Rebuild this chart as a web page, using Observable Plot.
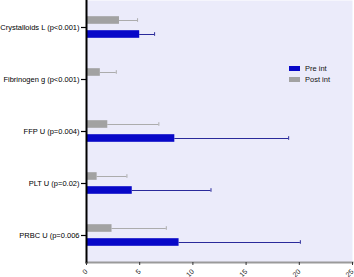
<!DOCTYPE html>
<html>
<head>
<meta charset="utf-8">
<script src="https://cdn.jsdelivr.net/npm/d3@7"></script>
<script src="https://cdn.jsdelivr.net/npm/@observablehq/plot@0.6"></script>
<style>
  body { margin: 0; background: #fff; font-family: "Liberation Sans", Arial, sans-serif; }
  #wrap { position: relative; width: 354px; height: 277px; }
  #legend { position: absolute; left: 289px; top: 63px; font-size: 7.5px; color: #111; }
  .item { display: flex; align-items: center; height: 11px; }
  .sw { width: 11px; height: 5px; margin-right: 5px; }
</style>
</head>
<body>
<div id="wrap"></div>
<script>
const categories = ["Crystalloids L (p<0.001)", "Fibrinogen g (p<0.001)", "FFP U (p=0.004)", "PLT U (p=0.02)", "PRBC U (p=0.006"];
const series = ["Pre int", "Post int"];
const preMean = [5.0, null, 8.3, 4.3, 8.7];
const preSD = [1.4, null, 10.7, 7.4, 11.4];
const postMean = [3.1, 1.3, 2.0, 1.0, 2.4];
const postSD = [1.7, 1.5, 4.8, 2.8, 5.1];
const xTicks = [0, 5, 10, 15, 20, 25];

const barColors = {"Pre int": "#0808c8", "Post int": "#a2a2a2"};
const errColors = {"Pre int": "#2a2a9a", "Post int": "#acacac"};

const rows = categories.flatMap((c, i) => [
  {cat: c, series: "Pre int", mean: preMean[i], sd: preSD[i]},
  {cat: c, series: "Post int", mean: postMean[i], sd: postSD[i]}
]).filter(d => d.mean != null);

const pre = rows.filter(d => d.series === "Pre int");
const post = rows.filter(d => d.series === "Post int");

const H = 277, mB = 15, mT = 0;
const bw = (H - mB - mT) / categories.length;
const mid = bw / 2;
const half = 4, off = 7;
const insets = (sign, h) => ({insetTop: mid + sign * off - h, insetBottom: bw - (mid + sign * off + h)});

const chart = Plot.plot({
  width: 354,
  height: H,
  marginLeft: 86,
  marginRight: 2,
  marginTop: mT,
  marginBottom: mB,
  style: {fontFamily: "'Liberation Sans', Arial, sans-serif", background: "white"},
  x: {domain: [0, 25], ticks: xTicks, label: null},
  y: {domain: categories, padding: 0, label: null},
  marks: [
    Plot.frame({fill: "#ebebfa", stroke: null}),
    Plot.ruleY(post, {y: "cat", x1: "mean", x2: d => d.mean + d.sd, stroke: errColors["Post int"], strokeWidth: 1, dy: -off}),
    Plot.ruleY(pre, {y: "cat", x1: "mean", x2: d => d.mean + d.sd, stroke: errColors["Pre int"], strokeWidth: 1, dy: off}),
    Plot.tickX(post, {y: "cat", x: d => d.mean + d.sd, stroke: errColors["Post int"], strokeWidth: 1, ...insets(-1, 2)}),
    Plot.tickX(pre, {y: "cat", x: d => d.mean + d.sd, stroke: errColors["Pre int"], strokeWidth: 1, ...insets(1, 2)}),
    Plot.barX(post, {y: "cat", x: "mean", fill: barColors["Post int"], ...insets(-1, half)}),
    Plot.barX(pre, {y: "cat", x: "mean", fill: barColors["Pre int"], ...insets(1, half)}),
    Plot.frame({anchor: "bottom", stroke: "#9a9a9a", strokeWidth: 2}),
    Plot.frame({anchor: "left", stroke: "#000", strokeWidth: 2}),
    Plot.axisY({tickSize: 5, tickPadding: 2, fontSize: 7.5, stroke: "#000", strokeWidth: 1.2, fill: "#000"}),
    Plot.axisX({ticks: xTicks, tickSize: 3, tickPadding: 5, tickRotate: -45, fontSize: 7, stroke: "#333", fill: "#222", label: null})
  ]
});

const wrap = document.getElementById("wrap");
wrap.appendChild(chart);

const legend = document.createElement("div");
legend.id = "legend";
for (const s of series) {
  const item = document.createElement("div");
  item.className = "item";
  const sw = document.createElement("span");
  sw.className = "sw";
  sw.style.background = barColors[s];
  const t = document.createElement("span");
  t.textContent = s;
  item.appendChild(sw);
  item.appendChild(t);
  legend.appendChild(item);
}
wrap.appendChild(legend);
</script>
</body>
</html>
